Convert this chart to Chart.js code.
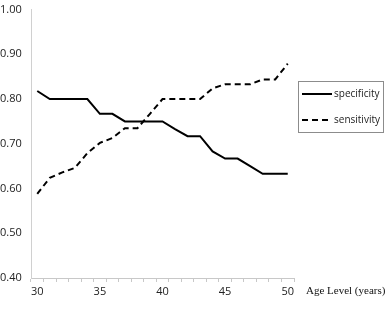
<!DOCTYPE html>
<html lang="en">
<head>
  <meta charset="UTF-8" />
  <title>Specificity and sensitivity by age level</title>
  <script src="https://cdn.jsdelivr.net/npm/chart.js"></script>
  <style>
    html, body { margin: 0; padding: 0; background: #fff; }
    #wrap { width: 390px; height: 309px; }
  </style>
</head>
<body>
  <div id="wrap"><canvas id="ageChart" width="390" height="309"></canvas></div>

  <script>
    const ages = [30, 31, 32, 33, 34, 35, 36, 37, 38, 39, 40, 41, 42, 43, 44, 45, 46, 47, 48, 49, 50];
    const specificity = [0.818, 0.80, 0.80, 0.80, 0.80, 0.767, 0.767, 0.75, 0.75, 0.75, 0.75, 0.733, 0.717, 0.717, 0.683, 0.667, 0.667, 0.65, 0.633, 0.633, 0.633];
    const sensitivity = [0.588, 0.624, 0.636, 0.646, 0.679, 0.702, 0.713, 0.735, 0.735, 0.767, 0.80, 0.80, 0.80, 0.80, 0.824, 0.833, 0.833, 0.833, 0.844, 0.844, 0.879];
    const seriesNames = ['specificity', 'sensitivity'];
    const xTitle = 'Age Level (years)';

    // legend box and axis title on the right side, drawn like the original
    const sideText = {
      id: 'sideText',
      afterDraw(chart) {
        const ctx = chart.ctx;
        ctx.save();
        ctx.strokeStyle = '#8c8c8c';
        ctx.lineWidth = 1;
        ctx.strokeRect(298.5, 81.5, 85, 51);
        ctx.strokeStyle = '#000';
        ctx.lineWidth = 2;
        ctx.font = '10px "Open Sans", sans-serif';
        ctx.fillStyle = '#222';
        ctx.textBaseline = 'middle';
        seriesNames.forEach((name, i) => {
          const y = 94 + i * 26;
          ctx.setLineDash(i === 0 ? [] : [6, 4]);
          ctx.beginPath();
          ctx.moveTo(302, y);
          ctx.lineTo(332, y);
          ctx.stroke();
          ctx.fillText(name, 334, y);
        });
        ctx.setLineDash([]);
        ctx.font = '11px "Liberation Serif", serif';
        ctx.fillStyle = '#111';
        ctx.fillText(xTitle, 306, 291);
        ctx.restore();
      }
    };

    new Chart(document.getElementById('ageChart'), {
      type: 'line',
      data: {
        labels: ages,
        datasets: [
          {
            label: seriesNames[0],
            data: specificity,
            borderColor: '#000',
            borderWidth: 2,
            pointRadius: 0,
            tension: 0,
            fill: false
          },
          {
            label: seriesNames[1],
            data: sensitivity,
            borderColor: '#000',
            borderWidth: 2,
            borderDash: [6, 4],
            pointRadius: 0,
            tension: 0,
            fill: false
          }
        ]
      },
      options: {
        responsive: false,
        animation: false,
        layout: { padding: { top: 0, right: 96, left: 0, bottom: 0 } },
        plugins: { legend: { display: false }, tooltip: { enabled: false } },
        scales: {
          x: {
            type: 'category',
            offset: true,
            grid: { display: true, offset: true, drawOnChartArea: false, tickLength: 4, color: '#c8c8c8' },
            border: { color: '#c8c8c8' },
            ticks: {
              autoSkip: false,
              maxRotation: 0,
              padding: 3,
              color: '#222',
              font: { family: '"Open Sans", sans-serif', size: 11 },
              callback: function (v, i) {
                const a = ages[i];
                return a % 5 === 0 ? String(a) : '';
              }
            },
            afterFit: s => { s.height = 31; }
          },
          y: {
            min: 0.4,
            max: 1.0,
            ticks: {
              stepSize: 0.1,
              crossAlign: 'far',
              color: '#222',
              font: { family: '"Open Sans", sans-serif', size: 11 },
              callback: v => v.toFixed(2)
            },
            grid: { display: false },
            border: { color: '#d0d0d0' },
            afterFit: s => { s.width = 31; }
          }
        }
      },
      plugins: [sideText]
    });
  </script>
</body>
</html>
